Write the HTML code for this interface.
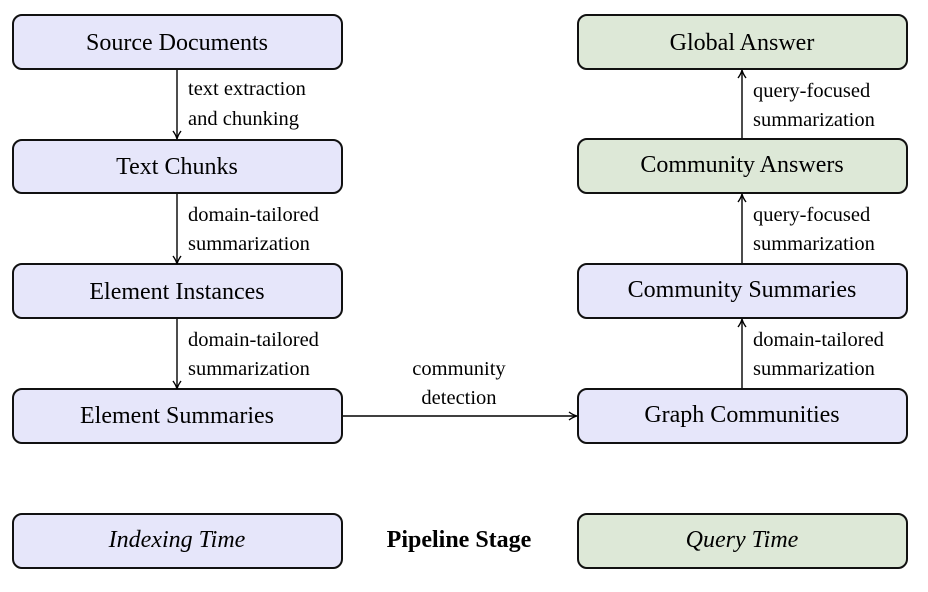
<!DOCTYPE html>
<html><head><meta charset="utf-8"><style>
html,body{margin:0;padding:0;background:#fff;width:928px;height:592px;overflow:hidden}
svg text{font-family:"Liberation Serif",serif;fill:#000}
.b{font-size:24px;text-anchor:middle;dominant-baseline:central}
.l{font-size:20.5px}
</style></head><body>
<svg width="928" height="592" viewBox="0 0 928 592" xmlns="http://www.w3.org/2000/svg">
<defs><marker id="a" markerWidth="10" markerHeight="10" refX="8" refY="5" orient="auto" markerUnits="userSpaceOnUse"><path d="M1,1 Q5,4 9,5 Q5,6 1,9" fill="none" stroke="#000" stroke-width="1.4"/></marker></defs>
<g stroke="#111" stroke-width="2">
<rect x="13" y="15" width="329" height="54" rx="9" fill="#e6e6fa"/>
<rect x="13" y="140" width="329" height="53" rx="9" fill="#e6e6fa"/>
<rect x="13" y="264" width="329" height="54" rx="9" fill="#e6e6fa"/>
<rect x="13" y="389" width="329" height="54" rx="9" fill="#e6e6fa"/>
<rect x="13" y="514" width="329" height="54" rx="9" fill="#e6e6fa"/>
<rect x="578" y="15" width="329" height="54" rx="9" fill="#dde8d7"/>
<rect x="578" y="139" width="329" height="54" rx="9" fill="#dde8d7"/>
<rect x="578" y="264" width="329" height="54" rx="9" fill="#e6e6fa"/>
<rect x="578" y="389" width="329" height="54" rx="9" fill="#e6e6fa"/>
<rect x="578" y="514" width="329" height="54" rx="9" fill="#dde8d7"/>
</g>
<g stroke="#000" stroke-width="1.4" fill="none">
<line x1="177" y1="70" x2="177" y2="138" marker-end="url(#a)"/>
<line x1="177" y1="194" x2="177" y2="263" marker-end="url(#a)"/>
<line x1="177" y1="319" x2="177" y2="388" marker-end="url(#a)"/>
<line x1="343" y1="416" x2="576" y2="416" marker-end="url(#a)"/>
<line x1="742" y1="388" x2="742" y2="320" marker-end="url(#a)"/>
<line x1="742" y1="263" x2="742" y2="195" marker-end="url(#a)"/>
<line x1="742" y1="138" x2="742" y2="71" marker-end="url(#a)"/>
</g>
<text class="b" x="177" y="43">Source Documents</text>
<text class="b" x="177" y="167">Text Chunks</text>
<text class="b" x="177" y="292">Element Instances</text>
<text class="b" x="177" y="416">Element Summaries</text>
<text class="b" x="177" y="540" font-style="italic">Indexing Time</text>
<text class="b" x="742" y="43">Global Answer</text>
<text class="b" x="742" y="165">Community Answers</text>
<text class="b" x="742" y="290">Community Summaries</text>
<text class="b" x="742" y="415">Graph Communities</text>
<text class="b" x="742" y="540" font-style="italic">Query Time</text>
<text class="b" x="459" y="540" font-weight="bold">Pipeline Stage</text>
<text class="l" x="188" y="95">text extraction</text>
<text class="l" x="188" y="125">and chunking</text>
<text class="l" x="188" y="221">domain-tailored</text>
<text class="l" x="188" y="250">summarization</text>
<text class="l" x="188" y="346">domain-tailored</text>
<text class="l" x="188" y="375">summarization</text>
<text class="l" x="459" y="375" text-anchor="middle">community</text>
<text class="l" x="459" y="404" text-anchor="middle">detection</text>
<text class="l" x="753" y="97">query-focused</text>
<text class="l" x="753" y="126">summarization</text>
<text class="l" x="753" y="221">query-focused</text>
<text class="l" x="753" y="250">summarization</text>
<text class="l" x="753" y="346">domain-tailored</text>
<text class="l" x="753" y="375">summarization</text>
</svg>
</body></html>
